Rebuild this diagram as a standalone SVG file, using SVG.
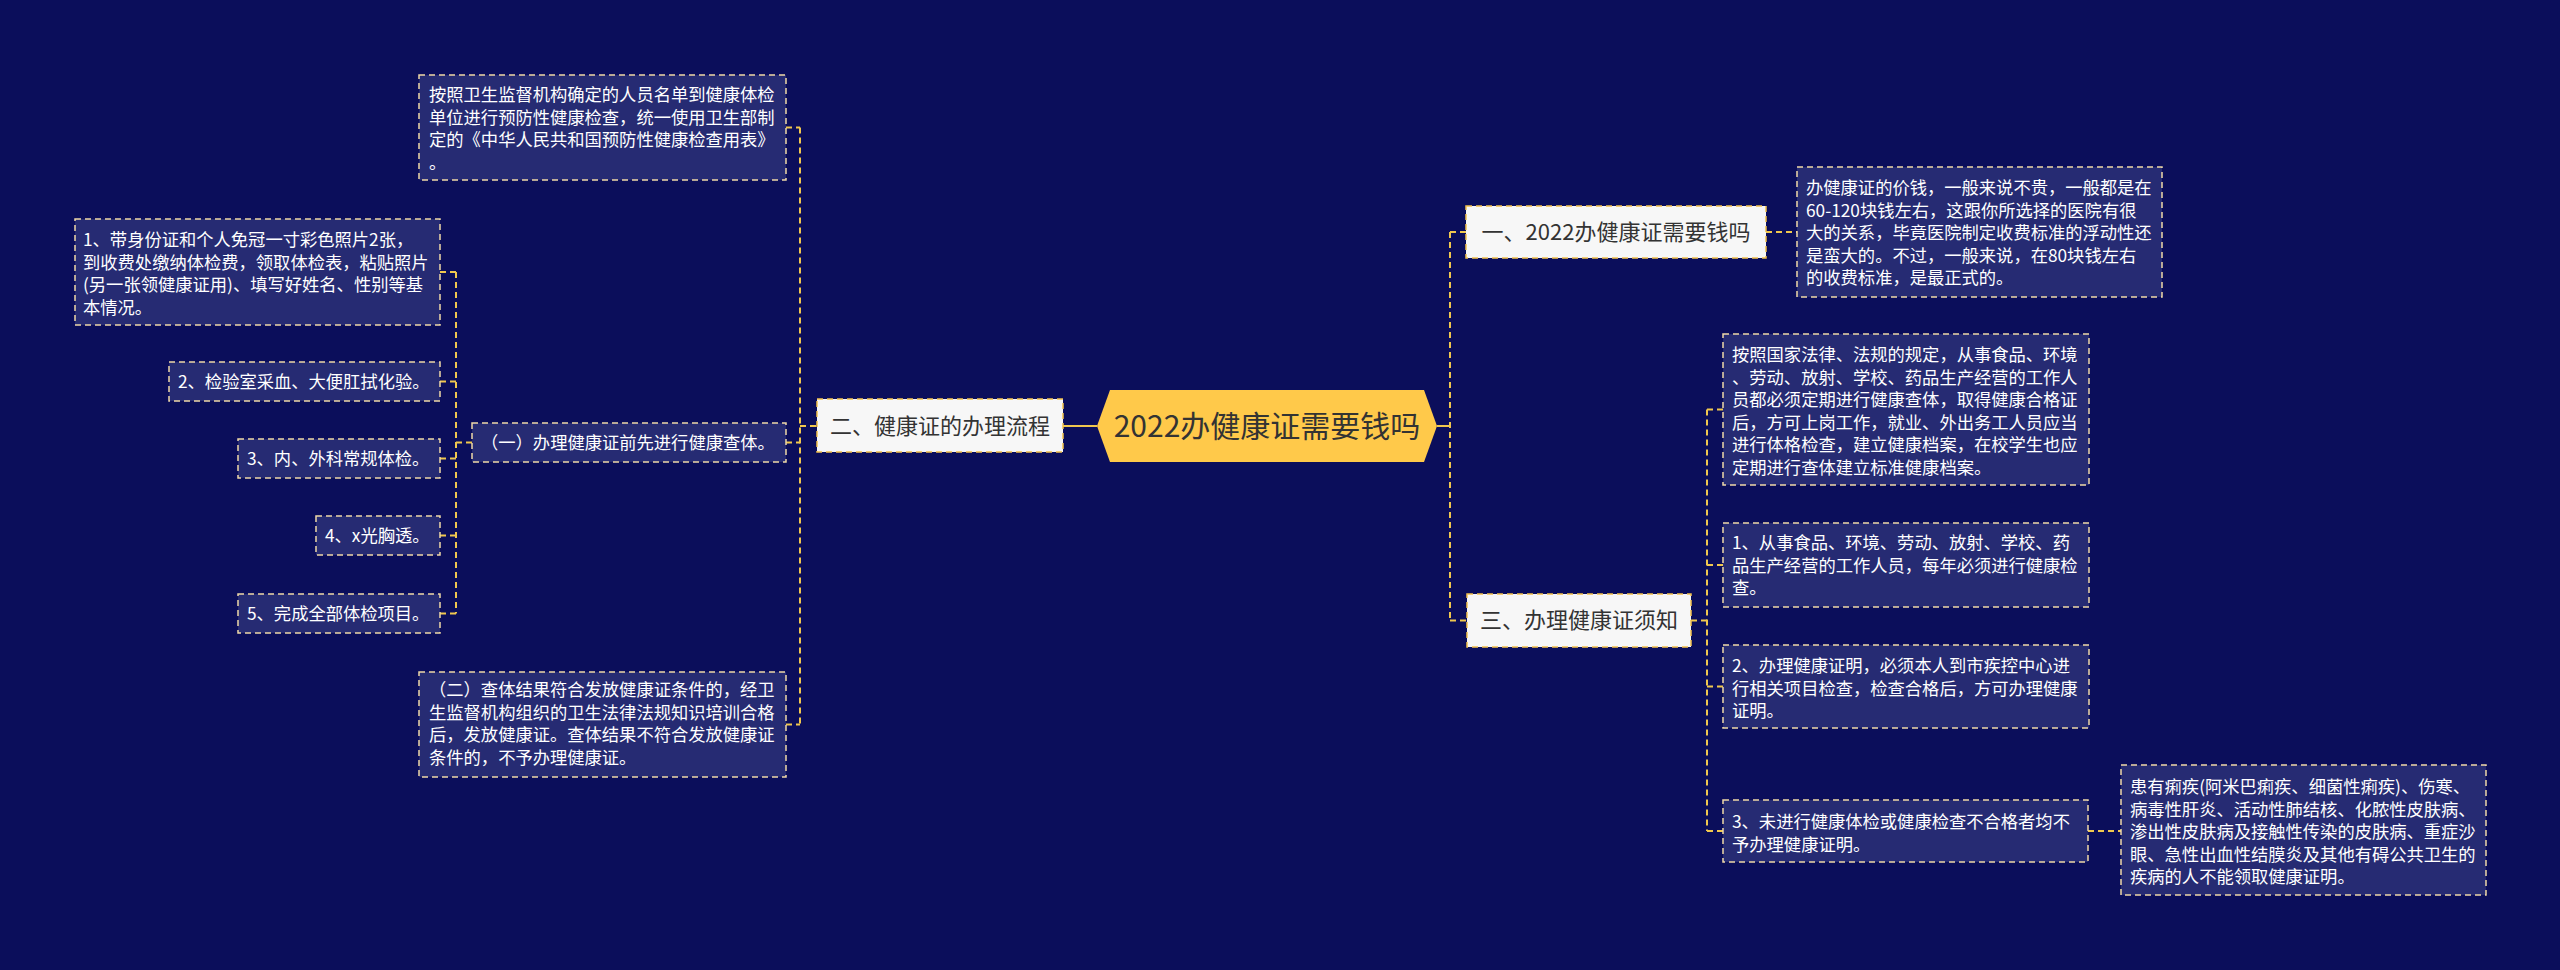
<svg xmlns="http://www.w3.org/2000/svg" width="2560" height="970" viewBox="0 0 2560 970">
<style>
text{font-family:"Noto Sans CJK SC","Noto Sans",sans-serif}
.leaf rect{fill:#262b73;stroke:#f0d9a8;stroke-width:1.5;stroke-dasharray:6 4}
.leaf text{fill:#ffffff;font-size:17.3px}
.sub rect{fill:#f7f7f7;stroke:#f2c14e;stroke-width:1.5;stroke-dasharray:6 4}
.sub text{fill:#333333;font-size:22px;text-anchor:middle}
.conn path{fill:none;stroke:#f0c74f;stroke-width:2}
.conn .d{stroke-dasharray:6 4}
</style>
<rect width="2560" height="970" fill="#0b0e5b"/>
<g class="conn" id="connectors">
<path d="M1063,426 H1097"/>
<path d="M1437,426 H1450"/>
<path class="d" d="M800,127.5 V724.5"/>
<path class="d" d="M786,127.5 H800"/>
<path class="d" d="M786,442.5 H800"/>
<path class="d" d="M786,724.5 H800"/>
<path class="d" d="M800,426 H817"/>
<path class="d" d="M456,272 V613.5"/>
<path class="d" d="M440,272 H456"/>
<path class="d" d="M440,381.5 H456"/>
<path class="d" d="M440,458.5 H456"/>
<path class="d" d="M440,535.5 H456"/>
<path class="d" d="M440,613.5 H456"/>
<path class="d" d="M456,442.5 H472"/>
<path class="d" d="M1450,232 V620.5"/>
<path class="d" d="M1450,232 H1466"/>
<path class="d" d="M1450,620.5 H1467"/>
<path class="d" d="M1766,232 H1797"/>
<path class="d" d="M1691,620.5 H1707"/>
<path class="d" d="M1707,409.5 V831"/>
<path class="d" d="M1707,409.5 H1723"/>
<path class="d" d="M1707,565 H1723"/>
<path class="d" d="M1707,686.5 H1723"/>
<path class="d" d="M1707,831 H1723"/>
<path class="d" d="M2088,831 H2121"/>
</g>
<g id="root">
<polygon points="1097,426 1110,390 1424,390 1437,426 1424,462 1110,462" fill="#ffc94a"/>
<text x="1267" y="437" font-size="30" fill="#333333" text-anchor="middle">2022办健康证需要钱吗</text>
</g>
<g id="n-er" class="sub"><rect x="817" y="399" width="246" height="53"/><text x="940" y="434">二、健康证的办理流程</text></g>
<g id="n-yi" class="sub"><rect x="1466" y="206" width="300" height="52"/><text x="1616" y="240">一、2022办健康证需要钱吗</text></g>
<g id="n-san" class="sub"><rect x="1467" y="594" width="224" height="53"/><text x="1579" y="628">三、办理健康证须知</text></g>
<g id="n-top" class="leaf"><rect x="419" y="75" width="367" height="105"/>
<text><tspan x="429" y="101">按照卫生监督机构确定的人员名单到健康体检</tspan><tspan x="429" y="123.5">单位进行预防性健康检查，统一使用卫生部制</tspan><tspan x="429" y="146">定的《中华人民共和国预防性健康检查用表》</tspan><tspan x="429" y="168.5">。</tspan></text></g>
<g id="n-yi1" class="leaf"><rect x="472" y="423" width="314" height="39"/><text x="481" y="448.5">（一）办理健康证前先进行健康查体。</text></g>
<g id="n-s1" class="leaf"><rect x="75" y="219" width="365" height="106"/>
<text><tspan x="83" y="246">1、带身份证和个人免冠一寸彩色照片2张，</tspan><tspan x="83" y="268.5">到收费处缴纳体检费，领取体检表，粘贴照片</tspan><tspan x="83" y="291">(另一张领健康证用)、填写好姓名、性别等基</tspan><tspan x="83" y="313.5">本情况。</tspan></text></g>
<g id="n-s2" class="leaf"><rect x="169" y="362" width="271" height="39"/><text x="178" y="387.5">2、检验室采血、大便肛拭化验。</text></g>
<g id="n-s3" class="leaf"><rect x="238" y="439" width="202" height="39"/><text x="247" y="464.5">3、内、外科常规体检。</text></g>
<g id="n-s4" class="leaf"><rect x="316" y="516" width="124" height="39"/><text x="325" y="541.5">4、x光胸透。</text></g>
<g id="n-s5" class="leaf"><rect x="238" y="594" width="202" height="39"/><text x="247" y="619.5">5、完成全部体检项目。</text></g>
<g id="n-er2" class="leaf"><rect x="419" y="672" width="367" height="105"/>
<text><tspan x="429" y="696">（二）查体结果符合发放健康证条件的，经卫</tspan><tspan x="429" y="718.5">生监督机构组织的卫生法律法规知识培训合格</tspan><tspan x="429" y="741">后，发放健康证。查体结果不符合发放健康证</tspan><tspan x="429" y="763.5">条件的，不予办理健康证。</tspan></text></g>
<g id="n-price" class="leaf"><rect x="1797" y="167" width="365" height="130"/>
<text><tspan x="1806" y="194">办健康证的价钱，一般来说不贵，一般都是在</tspan><tspan x="1806" y="216.5">60-120块钱左右，这跟你所选择的医院有很</tspan><tspan x="1806" y="239">大的关系，毕竟医院制定收费标准的浮动性还</tspan><tspan x="1806" y="261.5">是蛮大的。不过，一般来说，在80块钱左右</tspan><tspan x="1806" y="284">的收费标准，是最正式的。</tspan></text></g>
<g id="n-law" class="leaf"><rect x="1723" y="334" width="366" height="151"/>
<text><tspan x="1732" y="361">按照国家法律、法规的规定，从事食品、环境</tspan><tspan x="1732" y="383.5">、劳动、放射、学校、药品生产经营的工作人</tspan><tspan x="1732" y="406">员都必须定期进行健康查体，取得健康合格证</tspan><tspan x="1732" y="428.5">后，方可上岗工作，就业、外出务工人员应当</tspan><tspan x="1732" y="451">进行体格检查，建立健康档案，在校学生也应</tspan><tspan x="1732" y="473.5">定期进行查体建立标准健康档案。</tspan></text></g>
<g id="n-k1" class="leaf"><rect x="1723" y="523" width="366" height="84"/>
<text><tspan x="1732" y="549">1、从事食品、环境、劳动、放射、学校、药</tspan><tspan x="1732" y="571.5">品生产经营的工作人员，每年必须进行健康检</tspan><tspan x="1732" y="594">查。</tspan></text></g>
<g id="n-k2" class="leaf"><rect x="1723" y="645" width="366" height="83"/>
<text><tspan x="1732" y="672">2、办理健康证明，必须本人到市疾控中心进</tspan><tspan x="1732" y="694.5">行相关项目检查，检查合格后，方可办理健康</tspan><tspan x="1732" y="717">证明。</tspan></text></g>
<g id="n-k3" class="leaf"><rect x="1723" y="800" width="365" height="62"/>
<text><tspan x="1732" y="828">3、未进行健康体检或健康检查不合格者均不</tspan><tspan x="1732" y="850.5">予办理健康证明。</tspan></text></g>
<g id="n-ill" class="leaf"><rect x="2121" y="765" width="365" height="130"/>
<text><tspan x="2130" y="793">患有痢疾(阿米巴痢疾、细菌性痢疾)、伤寒、</tspan><tspan x="2130" y="815.5">病毒性肝炎、活动性肺结核、化脓性皮肤病、</tspan><tspan x="2130" y="838">渗出性皮肤病及接触性传染的皮肤病、重症沙</tspan><tspan x="2130" y="860.5">眼、急性出血性结膜炎及其他有碍公共卫生的</tspan><tspan x="2130" y="883">疾病的人不能领取健康证明。</tspan></text></g>
</svg>
